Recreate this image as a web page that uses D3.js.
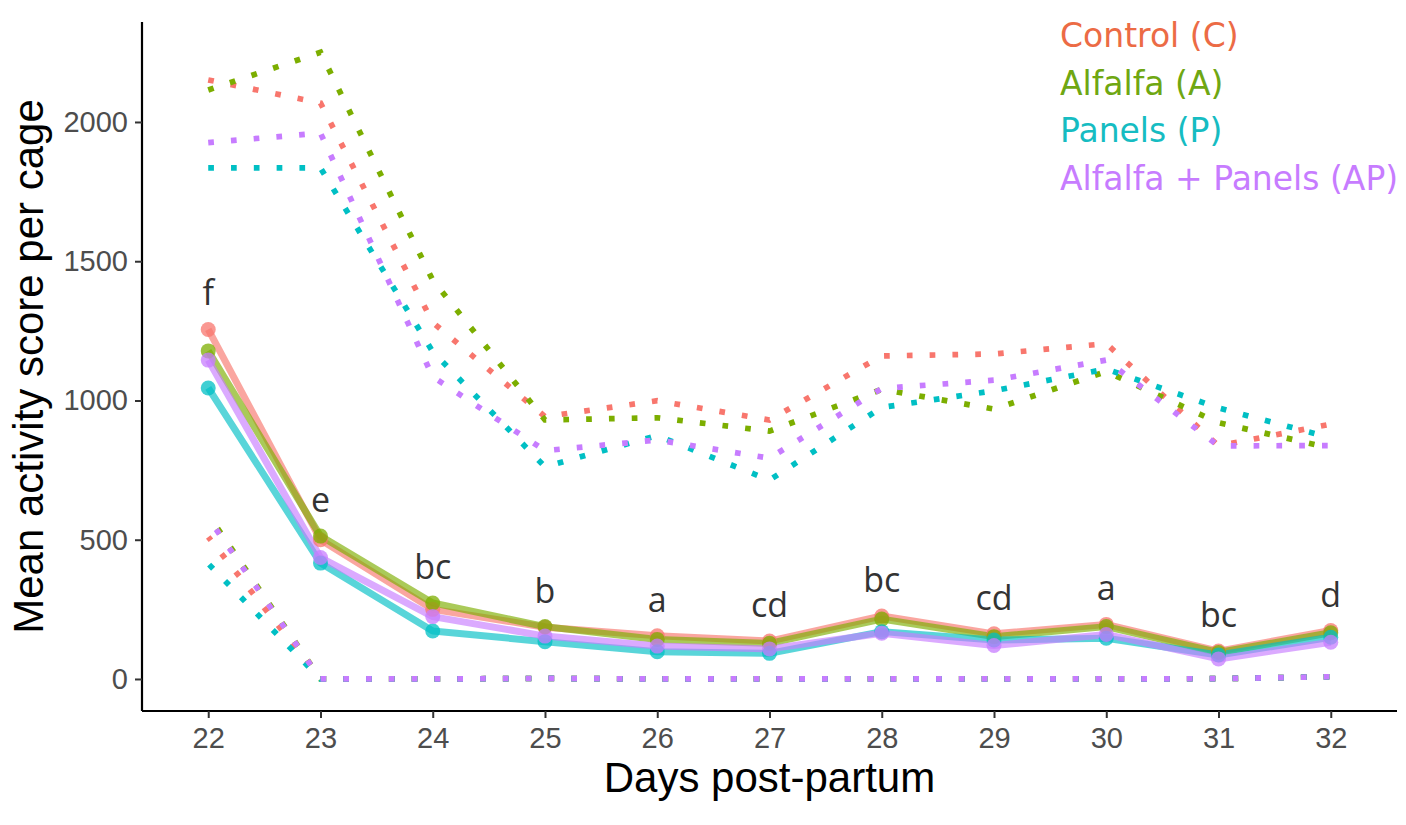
<!DOCTYPE html>
<html>
<head>
<meta charset="utf-8">
<script src="https://cdn.jsdelivr.net/npm/d3@7"></script>
<style>
  body { margin: 0; background: #fff; }
  svg { display: block; }
</style>
</head>
<body>
<script>
// days on the x axis
var days = [22, 23, 24, 25, 26, 27, 28, 29, 30, 31, 32];

var groups = ["Control (C)", "Alfalfa (A)", "Panels (P)", "Alfalfa + Panels (AP)"];

// mean activity score (solid lines)
var meanC  = [1255, 500, 250, 186, 155, 136, 226, 162, 196, 100, 174];
var meanA  = [1178, 513, 273, 188, 142, 128, 215, 152, 188, 95, 166];
var meanP  = [1045, 416, 172, 134, 98, 92, 170, 140, 146, 86, 150];
var meanAP = [1145, 436, 224, 154, 118, 108, 164, 120, 160, 72, 132];

// upper bound (dotted)
var upC  = [2151, 2068, 1280, 942, 999, 930, 1160, 1167, 1204, 837, 915];
var upA  = [2115, 2250, 1432, 930, 938, 890, 1040, 969, 1104, 920, 829];
var upP  = [1835, 1835, 1175, 762, 874, 714, 975, 1035, 1113, 973, 866];
var upAP = [1926, 1960, 1085, 820, 858, 793, 1043, 1073, 1145, 837, 838];

// lower bound (dotted)
var loC  = [510, 0, 0, 2, 0, 0, 0, 0, 0, 1, 8];
var loA  = [590, 0, 0, 2, 0, 0, 0, 0, 0, 1, 8];
var loP  = [414, 0, 0, 2, 0, 0, 0, 0, 0, 1, 8];
var loAP = [578, 0, 0, 2, 0, 0, 0, 0, 0, 1, 8];

// letters of significance per day
var letters = ["f", "e", "bc", "b", "a", "cd", "bc", "cd", "a", "bc", "d"];

var yTicks = [0, 500, 1000, 1500, 2000];

var colors = ["#F8766D", "#7CAE00", "#00BFC4", "#C77CFF"];
var legendColors = ["#EC6B45", "#6FA712", "#16BCC2", "#C77CFF"];

var means = [meanC, meanA, meanP, meanAP],
    uppers = [upC, upA, upP, upAP],
    lowers = [loC, loA, loP, loAP];

var width = 1406,
    height = 825,
    dot = 5.7,
    period = dot * 4;

var svg = d3.select("body")
  .append("svg")
    .attr("width", width)
    .attr("height", height);

var x = d3.scaleLinear().domain([21.41, 32.59]).range([142, 1397]);
var y = d3.scaleLinear().domain([-115, 2359]).range([711, 22]);

var line = d3.line()
  .x(function(d) { return x(d[0]); })
  .y(function(d) { return y(d[1]); });

function pairs(vals) {
  return days.map(function(d, i) { return [d, vals[i]]; });
}

// dotted bounds
var bounds = svg.append("g").attr("class", "bounds");
groups.forEach(function(g, gi) {
  [uppers[gi], lowers[gi]].forEach(function(vals, k) {
    var offset = 0;
    if (k === 1) {
      // line the dots up from day 23 on, so the flat parts overlap
      var dx = x(days[1]) - x(days[0]),
          dy = y(vals[1]) - y(vals[0]),
          len = Math.sqrt(dx * dx + dy * dy);
      offset = (period - (len % period)) % period;
    }
    bounds.append("path")
      .attr("d", line(pairs(vals)))
      .attr("fill", "none")
      .attr("stroke", colors[gi])
      .attr("stroke-width", dot)
      .attr("stroke-dasharray", dot + "," + (period - dot))
      .attr("stroke-dashoffset", offset)
      .attr("stroke-linecap", "butt");
  });
});

// mean lines
var meanG = svg.append("g").attr("class", "means");
groups.forEach(function(g, gi) {
  meanG.append("path")
    .attr("d", line(pairs(means[gi])))
    .attr("fill", "none")
    .attr("stroke", colors[gi])
    .attr("stroke-opacity", 0.65)
    .attr("stroke-width", 7)
    .attr("stroke-linejoin", "round");
});

groups.forEach(function(g, gi) {
  meanG.selectAll(".pt" + gi)
      .data(pairs(means[gi]))
      .enter()
    .append("circle")
      .attr("class", "pt" + gi)
      .attr("cx", function(d) { return x(d[0]); })
      .attr("cy", function(d) { return y(d[1]); })
      .attr("r", 7.5)
      .attr("fill", colors[gi])
      .attr("fill-opacity", 0.75);
});

// letters above the highest mean of each day
svg.append("g")
  .selectAll("text")
    .data(letters)
    .enter()
  .append("text")
    .attr("x", function(d, i) { return x(days[i]); })
    .attr("y", function(d, i) {
      var top = d3.max(means, function(m) { return m[i]; });
      return y(top) - 24;
    })
    .attr("text-anchor", "middle")
    .attr("font-family", "'Open Sans', sans-serif")
    .attr("font-size", 34)
    .attr("fill", "#333")
    .text(function(d) { return d; });

// axes
var xAxis = svg.append("g")
  .attr("transform", "translate(0,711)")
  .call(d3.axisBottom(x).tickValues(days).tickSize(7).tickPadding(9).tickFormat(d3.format("d")));

var yAxis = svg.append("g")
  .attr("transform", "translate(142,0)")
  .call(d3.axisLeft(y).tickValues(yTicks).tickSize(7).tickPadding(7).tickFormat(d3.format("d")));

[xAxis, yAxis].forEach(function(a) {
  a.select(".domain").attr("stroke", "#000").attr("stroke-width", 2.2);
  a.selectAll(".tick line").attr("stroke", "#333").attr("stroke-width", 2);
  a.selectAll(".tick text")
    .attr("font-family", "'Liberation Sans', Arial, sans-serif")
    .attr("font-size", 29)
    .attr("fill", "#4d4d4d");
});
// keep only the axis line, no outer ticks
xAxis.select(".domain").attr("d", "M142,0H1397");
yAxis.select(".domain").attr("d", "M0,22V711");

// axis titles
svg.append("text")
  .attr("x", x(27))
  .attr("y", 792)
  .attr("text-anchor", "middle")
  .attr("font-family", "'Liberation Sans', Arial, sans-serif")
  .attr("font-size", 42)
  .attr("fill", "#000")
  .text("Days post-partum");

svg.append("text")
  .attr("transform", "translate(43," + ((22 + 711) / 2) + ") rotate(-90)")
  .attr("text-anchor", "middle")
  .attr("font-family", "'Liberation Sans', Arial, sans-serif")
  .attr("font-size", 42)
  .attr("fill", "#000")
  .text("Mean activity score per cage");

// legend (text only)
svg.append("g")
  .selectAll("text")
    .data(groups)
    .enter()
  .append("text")
    .attr("x", 1060)
    .attr("y", function(d, i) { return 47 + i * 47.7; })
    .attr("font-family", "'DejaVu Sans', Verdana, sans-serif")
    .attr("font-size", 33)
    .attr("fill", function(d, i) { return legendColors[i]; })
    .text(function(d) { return d; });
</script>
</body>
</html>
